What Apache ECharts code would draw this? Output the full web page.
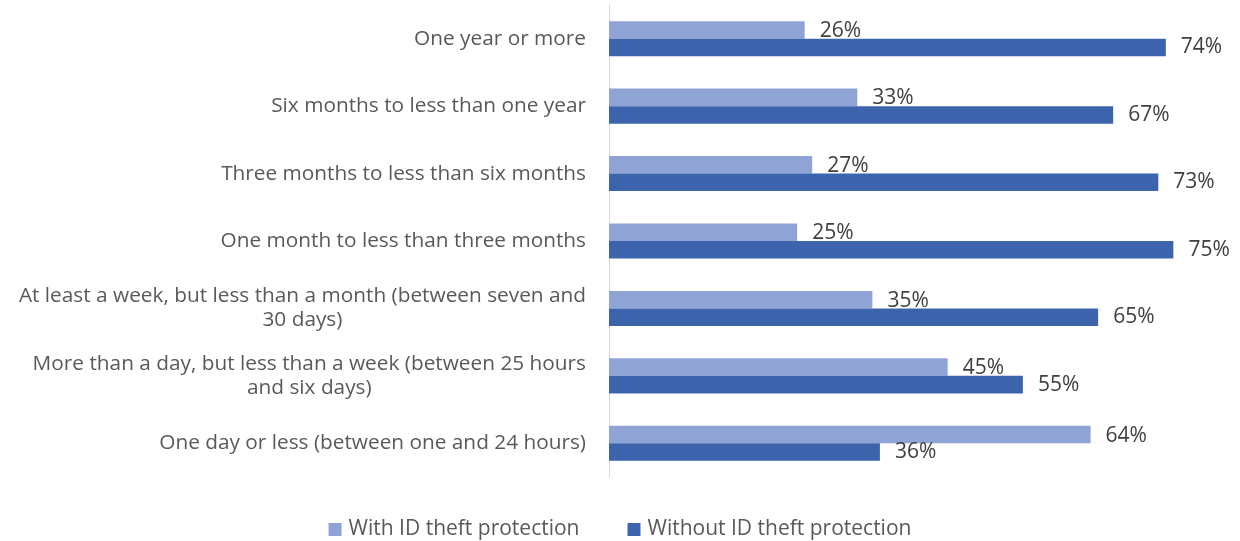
<!DOCTYPE html>
<html>
<head>
<meta charset="utf-8">
<script src="https://cdn.jsdelivr.net/npm/echarts@6/dist/echarts.min.js"></script>
<style>
  html, body { margin: 0; padding: 0; background: #fff; }
  #chart { width: 1240px; height: 541px; }
</style>
</head>
<body>
<div id="chart"></div>
<script>
// Time periods, top to bottom
const categories = [
  'One year or more',
  'Six months to less than one year',
  'Three months to less than six months',
  'One month to less than three months',
  'At least a week, but less than a month (between seven and\n30 days)',
  'More than a day, but less than a week (between 25 hours\nand six days)',
  'One day or less (between one and 24 hours)'
];
const seriesNames = ['With ID theft protection', 'Without ID theft protection'];
const withProtection = [26, 33, 27, 25, 35, 45, 64];
const withoutProtection = [74, 67, 73, 75, 65, 55, 36];

const FONT = '"Open Sans", "Noto Sans", sans-serif';
const LIGHT = '#8FA3D5';
const DARK = '#3C64AD';

const chart = echarts.init(document.getElementById('chart'), null, { renderer: 'canvas' });

function barSeries(name, data, color, dy) {
  return {
    name: name,
    type: 'bar',
    data: data,
    barGap: '0%',
    barCategoryGap: '48%',
    itemStyle: { color: color },
    label: {
      show: true,
      position: 'right',
      distance: 15,
      offset: [0, dy],
      formatter: p => p.value + '%',
      fontFamily: FONT,
      fontSize: 21,
      color: '#404040'
    }
  };
}

chart.setOption({
  backgroundColor: '#fff',
  animation: false,
  grid: { left: 609, right: 29, top: 5, bottom: 64 },
  xAxis: {
    type: 'value',
    min: 0,
    max: 80,
    show: false
  },
  yAxis: {
    type: 'category',
    data: categories,
    inverse: true,
    axisLine: { show: true, lineStyle: { color: '#d9d9d9', width: 1 } },
    axisTick: { show: false },
    axisLabel: {
      margin: 23,
      fontFamily: FONT,
      fontSize: 20.8,
      color: '#595959',
      lineHeight: 24,
      formatter: v => '{c|' + v + '}',
      rich: {
        c: { align: 'center', fontFamily: FONT, fontSize: 20.8, color: '#595959', lineHeight: 24 }
      }
    }
  },
  legend: {
    top: 514,
    left: 'center',
    itemWidth: 13,
    itemHeight: 13,
    itemGap: 48,
    icon: 'rect',
    textStyle: { fontFamily: FONT, fontSize: 21, color: '#595959', padding: [0, 0, 0, 2] },
    data: seriesNames
  },
  series: [
    barSeries(seriesNames[0], withProtection, LIGHT, 1),
    barSeries(seriesNames[1], withoutProtection, DARK, 0)
  ]
});
</script>
</body>
</html>
